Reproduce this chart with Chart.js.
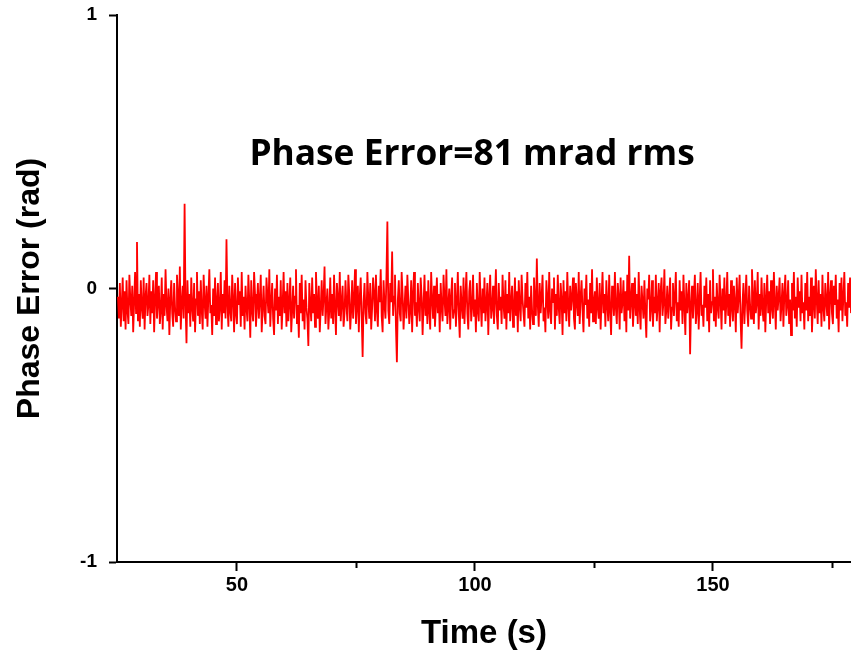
<!DOCTYPE html>
<html>
<head>
<meta charset="utf-8">
<script src="https://cdn.jsdelivr.net/npm/chart.js@4.4.1/dist/chart.umd.min.js"></script>
<style>
html,body{margin:0;padding:0;background:#fff;}
#wrap{position:relative;width:851px;height:654px;}
</style>
</head>
<body>
<div id="wrap"><canvas id="c"></canvas></div>
<script>
// Sampling of the trace (seconds)
const startTime = 25;
const sampleStep = 0.2;

// Phase error samples (rad)
const phaseError = [
  -0.03,-0.11,0.02,-0.14,-0.06,0.04,-0.12,-0.01,-0.15,0.03,-0.08,-0.13,0.05,-0.04,-0.10,0.01,-0.16,-0.05,0.06,-0.09,
  0.17,-0.12,-0.02,-0.14,0.03,-0.07,-0.11,0.04,-0.15,-0.03,0.02,-0.10,-0.06,0.05,-0.13,-0.01,-0.09,0.03,-0.16,-0.04,
  0.06,-0.11,-0.05,0.01,-0.13,-0.08,0.04,-0.15,-0.02,-0.10,0.07,-0.06,-0.12,0.00,-0.17,-0.04,0.03,-0.09,-0.14,0.02,
  -0.07,-0.12,0.05,-0.03,-0.10,0.08,-0.15,-0.05,0.01,-0.11,0.31,-0.06,-0.20,0.03,-0.09,-0.02,-0.14,0.04,-0.07,-0.12,
  0.02,-0.16,-0.04,0.06,-0.10,-0.01,-0.13,0.03,-0.08,-0.15,0.05,-0.05,-0.11,0.01,-0.14,-0.03,0.07,-0.09,-0.06,-0.17,
  0.00,-0.10,0.04,-0.13,-0.05,0.02,-0.12,-0.07,0.06,-0.15,-0.02,-0.09,0.03,-0.11,0.18,-0.06,-0.14,0.01,-0.08,-0.12,
  0.05,-0.04,-0.16,0.02,-0.09,-0.13,0.04,-0.06,-0.01,-0.14,0.06,-0.10,-0.03,-0.15,0.01,-0.07,-0.12,0.05,-0.05,-0.18,
  0.03,-0.08,-0.12,0.06,-0.02,-0.14,-0.06,0.02,-0.11,-0.04,0.05,-0.16,-0.07,0.01,-0.10,-0.13,0.04,-0.03,-0.09,0.07,
  -0.14,-0.05,0.02,-0.11,-0.17,0.00,-0.08,0.05,-0.13,-0.03,-0.10,0.03,-0.15,-0.06,0.06,-0.09,-0.01,-0.14,0.02,-0.12,
  -0.05,0.04,-0.16,-0.08,0.01,-0.11,-0.03,0.07,-0.13,-0.06,-0.18,0.02,-0.09,0.05,-0.12,-0.04,-0.15,0.03,-0.07,-0.11,
  -0.21,0.02,-0.06,-0.12,0.04,-0.09,-0.02,-0.14,0.06,-0.05,-0.11,0.01,-0.16,-0.07,0.03,-0.10,-0.03,0.08,-0.13,-0.06,
  0.00,-0.15,-0.08,0.04,-0.11,-0.02,-0.13,0.05,-0.07,-0.17,0.02,-0.04,-0.10,0.06,-0.12,-0.05,0.01,-0.14,-0.09,0.03,
  -0.06,-0.12,0.05,-0.02,-0.15,-0.08,0.03,-0.11,-0.04,0.07,-0.13,-0.06,0.01,-0.16,-0.03,0.04,-0.10,-0.25,-0.05,0.02,
  -0.09,-0.13,0.06,-0.04,-0.11,0.02,-0.15,-0.07,0.04,-0.02,-0.12,0.05,-0.08,-0.14,0.01,-0.05,0.07,-0.10,-0.16,0.03,
  -0.06,-0.11,0.04,0.245,-0.08,-0.13,0.02,-0.05,0.135,-0.10,-0.03,0.05,-0.14,-0.27,-0.04,0.03,-0.09,-0.12,0.06,-0.02,
  -0.15,-0.07,0.01,-0.11,0.05,-0.04,-0.13,-0.08,0.03,-0.16,-0.02,0.06,-0.10,-0.05,-0.14,0.02,-0.07,-0.12,0.04,-0.03,
  -0.17,-0.06,0.05,-0.10,-0.01,-0.13,0.03,-0.08,-0.15,0.06,-0.04,-0.11,0.01,-0.14,-0.06,0.04,-0.09,-0.02,-0.16,0.02,
  -0.07,-0.12,0.05,-0.04,-0.10,0.07,-0.13,-0.06,0.00,-0.15,-0.03,0.04,-0.11,-0.08,0.02,-0.14,-0.05,0.06,-0.09,-0.18,
  0.01,-0.06,-0.11,0.04,-0.13,-0.03,0.06,-0.09,-0.15,-0.01,0.03,-0.12,-0.07,0.05,-0.10,-0.04,-0.16,0.02,-0.08,-0.12,
  0.06,-0.05,-0.14,0.00,-0.09,0.04,-0.12,-0.06,0.02,-0.17,-0.03,0.05,-0.11,-0.07,0.01,-0.13,-0.04,0.07,-0.10,-0.15,
  0.02,-0.08,-0.03,-0.13,0.05,-0.06,-0.11,0.03,-0.15,-0.02,-0.09,0.06,-0.12,-0.05,0.01,-0.14,-0.07,0.04,-0.10,-0.01,
  -0.16,0.03,-0.06,-0.12,0.05,-0.04,-0.09,-0.14,0.02,-0.07,0.06,-0.11,-0.03,-0.15,0.01,-0.08,-0.13,0.04,-0.05,-0.10,
  0.11,-0.06,-0.14,0.02,-0.09,-0.03,0.05,-0.12,-0.07,-0.16,0.03,-0.04,-0.11,0.06,-0.08,-0.13,0.00,-0.05,0.04,-0.15,
  -0.02,-0.10,0.05,-0.07,-0.13,0.02,-0.04,-0.17,0.03,-0.09,-0.01,-0.12,0.06,-0.06,-0.14,0.01,-0.08,-0.03,0.04,-0.11,
  -0.15,0.02,-0.05,-0.10,0.06,-0.13,-0.03,0.03,-0.08,-0.16,0.00,-0.06,0.05,-0.11,-0.04,-0.14,0.02,-0.09,0.07,-0.12,
  -0.05,-0.01,-0.13,0.04,-0.07,-0.11,0.02,-0.15,-0.04,0.06,-0.09,-0.02,-0.14,0.03,-0.06,-0.12,0.05,-0.08,-0.17,0.01,
  -0.04,-0.10,0.06,-0.07,-0.13,0.02,-0.03,-0.15,0.04,-0.09,-0.05,0.03,-0.12,-0.01,-0.16,0.05,-0.08,0.12,-0.11,-0.04,
  0.02,-0.14,-0.06,0.04,-0.10,-0.02,-0.13,0.06,-0.07,-0.15,0.01,-0.05,-0.11,0.03,-0.09,-0.18,0.00,-0.04,0.05,-0.12,
  -0.07,0.03,-0.14,-0.03,-0.09,0.05,-0.12,-0.06,0.02,-0.16,-0.01,0.04,-0.10,-0.05,0.07,-0.13,-0.08,0.01,-0.11,-0.04,
  0.04,-0.15,-0.07,0.02,-0.10,-0.03,0.06,-0.12,-0.05,-0.14,0.03,-0.08,-0.01,-0.13,0.05,-0.06,-0.17,0.02,-0.09,-0.04,
  0.03,-0.24,-0.06,0.01,-0.11,-0.03,0.05,-0.13,-0.08,0.02,-0.15,-0.04,0.06,-0.10,-0.06,-0.14,0.01,-0.07,0.04,-0.12,
  -0.02,-0.16,0.03,-0.09,-0.05,0.07,-0.12,-0.03,-0.14,0.02,-0.07,-0.11,0.05,-0.04,-0.15,0.00,-0.08,0.04,-0.13,-0.06,
  0.06,-0.10,-0.02,-0.14,0.03,-0.07,-0.12,0.01,-0.05,-0.16,0.04,-0.09,-0.03,0.05,-0.11,-0.22,-0.06,0.02,-0.13,-0.04,
  0.05,-0.08,-0.14,0.01,-0.06,-0.11,0.07,-0.03,-0.13,0.03,-0.09,-0.05,0.06,-0.15,-0.02,-0.10,0.04,-0.07,-0.12,0.02,
  -0.16,-0.04,0.05,-0.09,-0.01,-0.13,0.03,-0.07,-0.11,0.06,-0.05,-0.15,0.01,-0.08,-0.03,0.04,-0.12,-0.06,0.02,-0.14,
  -0.02,0.05,-0.10,-0.06,0.03,-0.13,-0.04,-0.17,0.02,-0.08,0.06,-0.11,-0.03,-0.14,0.04,-0.07,-0.01,-0.12,0.05,-0.09,
  -0.05,-0.15,0.02,-0.08,0.06,-0.12,-0.03,-0.10,0.04,-0.16,-0.06,0.01,-0.11,0.07,-0.04,-0.13,0.03,-0.09,-0.02,-0.14,
  0.05,-0.07,-0.12,0.02,-0.05,-0.10,0.06,-0.15,-0.03,0.03,-0.09,-0.13,0.01,-0.06,0.05,-0.11,-0.04,-0.16,0.02,-0.08,
  0.04,-0.12,-0.03,0.06,-0.10,-0.05,-0.14,0.02,-0.07,0.04,-0.09
];

// Axis ticks
const xMajorTicks = [50, 100, 150];
const xMinorTicks = [75, 125, 175];
const yTicks = [-1, 0, 1];

// Annotation text and its anchor in data units
const annotationText = 'Phase Error=81 mrad rms';
const annotationAt = {x: 99.4, y: 0.49};

const points = phaseError.map((v, i) => ({x: startTime + i * sampleStep, y: v}));

const minorTickPlugin = {
  id: 'minorTicks',
  afterDraw(chart) {
    const ctx = chart.ctx;
    const xs = chart.scales.x;
    const bottom = chart.chartArea.bottom;
    ctx.save();
    ctx.strokeStyle = '#000';
    ctx.lineWidth = 2;
    xMinorTicks.forEach(v => {
      const px = Math.round(xs.getPixelForValue(v)) + 0.5;
      ctx.beginPath();
      ctx.moveTo(px, bottom);
      ctx.lineTo(px, bottom + 6);
      ctx.stroke();
    });
    // annotation
    const ax = xs.getPixelForValue(annotationAt.x);
    const ay = chart.scales.y.getPixelForValue(annotationAt.y);
    ctx.fillStyle = '#000';
    ctx.textAlign = 'center';
    ctx.textBaseline = 'middle';
    ctx.font = 'bold 31px "Open Sans", Lato, sans-serif';
    const w = ctx.measureText(annotationText).width;
    const size = 31 * 445 / w;
    ctx.font = 'bold ' + size.toFixed(1) + 'px "Open Sans", Lato, sans-serif';
    ctx.fillText(annotationText, ax, ay);
    ctx.restore();
  }
};

new Chart(document.getElementById('c'), {
  type: 'line',
  data: {
    datasets: [{
      data: points,
      borderColor: '#ff0000',
      borderWidth: 1.8,
      pointRadius: 0,
      tension: 0,
      fill: false
    }]
  },
  options: {
    responsive: true,
    maintainAspectRatio: false,
    animation: false,
    layout: {padding: {top: 15, right: 0, left: 0, bottom: 0}},
    plugins: {legend: {display: false}, tooltip: {enabled: false}},
    scales: {
      x: {
        type: 'linear',
        min: 24.8,
        max: 179,
        afterBuildTicks(scale) { scale.ticks = xMajorTicks.map(v => ({value: v})); },
        afterFit(scale) { scale.height = 92; scale.paddingLeft = 0; scale.paddingRight = 0; },
        border: {display: true, color: '#000', width: 2},
        grid: {drawOnChartArea: false, drawTicks: true, tickLength: 9, tickColor: '#000', tickWidth: 2},
        ticks: {color: '#000', font: {family: '"Liberation Sans", Arial, sans-serif', weight: 'bold', size: 20}, padding: 2, maxRotation: 0},
        title: {display: true, text: 'Time (s)', color: '#000', font: {family: '"Liberation Sans", Arial, sans-serif', weight: 'bold', size: 33}, padding: {top: 0, bottom: 0}}
      },
      y: {
        min: -1,
        max: 1,
        afterBuildTicks(scale) { scale.ticks = yTicks.map(v => ({value: v})); },
        afterFit(scale) { scale.width = 117; scale.paddingTop = 0; scale.paddingBottom = 0; },
        border: {display: true, color: '#000', width: 2},
        grid: {drawOnChartArea: false, drawTicks: true, tickLength: 8, tickColor: '#000', tickWidth: 2},
        ticks: {color: '#000', font: {family: '"Liberation Sans", Arial, sans-serif', weight: 'bold', size: 19}, padding: 12},
        title: {display: true, text: 'Phase Error (rad)', color: '#000', font: {family: '"Liberation Sans", Arial, sans-serif', weight: 'bold', size: 32}, padding: {top: 11, bottom: 0}}
      }
    }
  },
  plugins: [minorTickPlugin]
});
</script>
</body>
</html>
